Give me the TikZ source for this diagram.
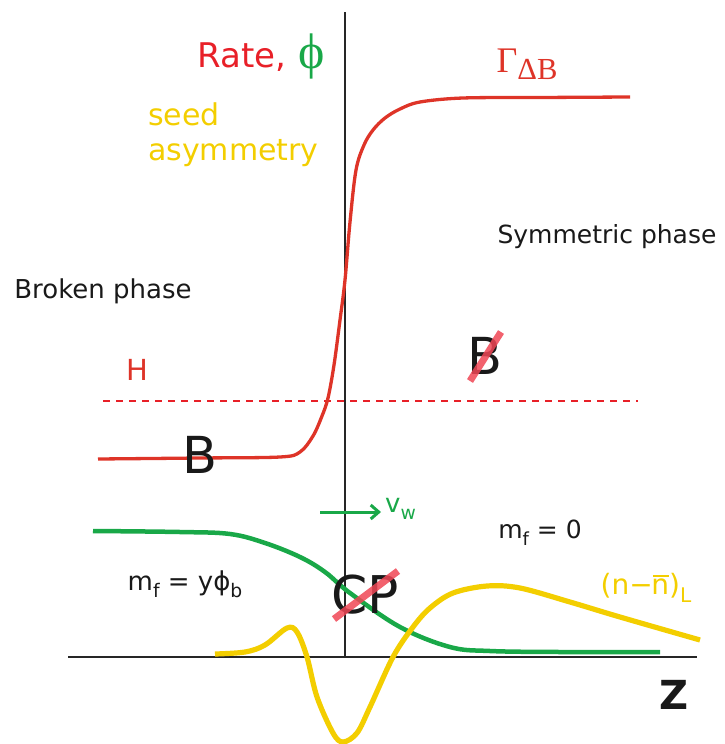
\documentclass[tikz,border=0pt]{standalone}
\usepackage{fontspec}
\setmainfont{DejaVu Sans}
\newfontfamily\serifgr{Liberation Serif}
\usetikzlibrary{arrows.meta}
\definecolor{rred}{RGB}{222,52,40}
\definecolor{tred}{RGB}{232,32,40}
\definecolor{ggreen}{RGB}{25,168,72}
\definecolor{yyel}{RGB}{243,206,0}
\definecolor{slashred}{RGB}{240,70,85}
\newcommand\dsub[1]{\raisebox{-0.5ex}{\scalebox{0.72}{#1}}}
\newcommand\dsubb[1]{\raisebox{-0.45ex}{\scalebox{0.85}{#1}}}
\begin{document}
\begin{tikzpicture}[x=1pt,y=-1pt,
  fs/.style={font=\fontsize{#1}{#1}\selectfont, inner sep=0pt},
  axis/.style={line width=1.6pt, black!85},
  redcurve/.style={rred, line width=3.3pt},
  greencurve/.style={ggreen, line width=4.5pt},
  yelcurve/.style={yyel, line width=5.2pt},
  crossout/.style={slashred, opacity=0.85, line width=7pt},
  lbl/.style={fs=#1, anchor=center}]
\useasboundingbox (0,0) rectangle (725,744);
% axes
\coordinate (vtop) at (345,12);
\coordinate (vbot) at (345,657);
\coordinate (hl) at (68,657);
\coordinate (hr) at (697,657);
\draw[axis] (vtop) -- (vbot);
\draw[axis] (hl) -- (hr);
% dashed H line
\coordinate (dl) at (103,401);
\coordinate (dr) at (638,401);
\draw[tred, line width=1.2pt, dash pattern=on 7pt off 6pt] (dl) -- (dr);
% red rate curve
\draw[redcurve] plot[smooth, tension=0.55] coordinates {(98,459) (200,458) (280,457) (300,452) (313,436) (322,416) (328,398) (334,365) (340,320) (345,280) (350,222) (356,170) (364,145) (373,130) (385,118) (400,109) (420,102) (463,98) (540,97.5) (630,97)};
% green phi curve
\draw[greencurve] plot[smooth, tension=0.6] coordinates {(93,531) (180,532) (230,534) (265,543) (300,557) (325,572) (350,593) (400,627) (450,647) (490,651) (560,652) (660,652)};
% yellow asymmetry curve
\draw[yelcurve] plot[smooth, tension=0.55] coordinates {(215,654) (245,652) (265,645) (287,628) (297,632) (307,657) (317,697) (333,733) (343,742) (357,733) (370,707) (393,657) (413,627) (430,608) (453,593) (487,586) (520,588) (570,602) (620,617) (700,640)};
% texts
\node[lbl=34, text=tred] (rate) at (242,57) {Rate,};
\node[lbl=50, text=ggreen] (phi) at (312,56) {\serifgr ϕ};
\node[lbl=36, text=rred] (gamma) at (527,64) {\serifgr Γ\dsubb{ΔB}};
\node[fs=30, text=yyel, anchor=north west, align=left] (seed) at (148,103) {seed\\[5pt]asymmetry};
\node[lbl=25, text=black!90] (sym) at (607,237) {Symmetric phase};
\node[lbl=26, text=black!90] (brok) at (103,291) {Broken phase};
\node[lbl=29, text=rred] (H) at (137,370) {H};
\node[lbl=51, text=black!90] (B) at (200,455) {B};
\node[lbl=51, text=black!90] (Bx) at (485,356) {B};
\coordinate (bx1) at (470,381);
\coordinate (bx2) at (501,332);
\draw[crossout] (bx1) -- (bx2);
% velocity arrow
\coordinate (va) at (320,512);
\coordinate (vb) at (381,512);
\draw[ggreen, line width=3pt, -{Straight Barb[length=8pt,width=14pt]}] (va) -- (vb);
\node[lbl=26, text=ggreen, anchor=west] (vw) at (385,509) {v\dsub{w}};
\node[lbl=25, text=black!90] (mf0) at (540,533) {m\dsub{f} = 0};
\node[lbl=26, text=black!90] (mfy) at (185,584) {m\dsub{f} = yϕ\dsub{b}};
\node[lbl=52, text=black!90] (CP) at (365,595) {CP};
\coordinate (cp1) at (334,619);
\coordinate (cp2) at (398,571);
\draw[crossout] (cp1) -- (cp2);
\node[lbl=28, text=yyel] (nn) at (646,588) {(n−\kern-0.05em\raisebox{0pt}[0pt][0pt]{n\llap{\rule[0.62em]{0.58em}{0.07em}}})\dsub{L}};
\node[lbl=40, text=black!90, font=\fontsize{40}{40}\selectfont\bfseries] (z) at (674,695) {Z};
\end{tikzpicture}
\end{document}
